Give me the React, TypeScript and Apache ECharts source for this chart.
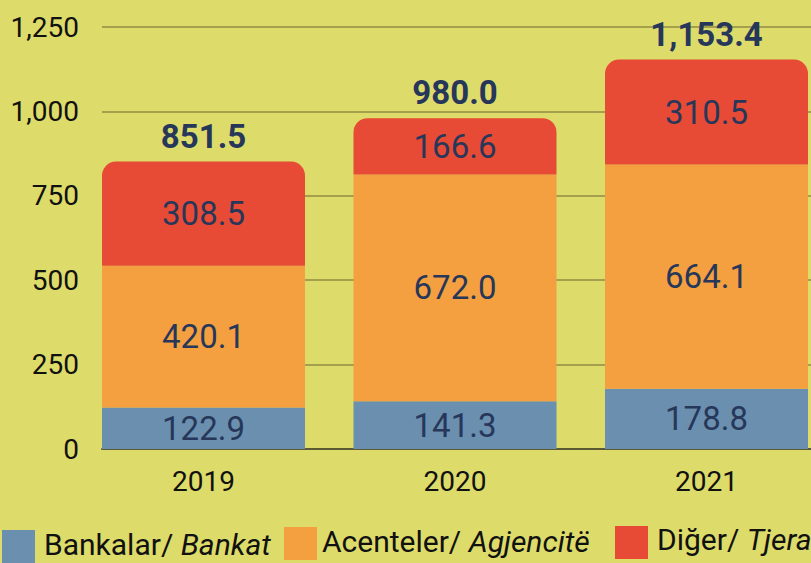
import React, { useEffect, useRef } from "react";
import * as echarts from "echarts";

const categories = ["2019", "2020", "2021"];
const bankat = [122.9, 141.3, 178.8];
const agjencite = [420.1, 672.0, 664.1];
const tjera = [308.5, 166.6, 310.5];
const totals = [851.5, 980.0, 1153.4];
const yTicks = [0, 250, 500, 750, 1000, 1250];

const BG = "#dddb6a";
const NAVY = "#26375a";
const FONT = "Roboto";

const fmt1 = (v: number) =>
  v.toLocaleString("en-US", { minimumFractionDigits: 1, maximumFractionDigits: 1 });

export default function App() {
  const ref = useRef<HTMLDivElement>(null);
  useEffect(() => {
    document.body.style.margin = "0";
    if (!ref.current) return;
    const chart = echarts.init(ref.current, null, { renderer: "svg" });
    const segLabel = {
      show: true,
      position: "inside",
      color: NAVY,
      fontSize: 33,
      fontFamily: FONT,
      formatter: (p: any) => fmt1(p.value),
    };
    const legendRich = {
      n: { fontSize: 30, fontFamily: FONT, fill: "#111" },
      i: { fontSize: 30, fontFamily: FONT, fontStyle: "italic", fill: "#111" },
    };
    chart.setOption({
      animation: false,
      backgroundColor: BG,
      grid: [
        { left: 203.5, right: 104.5, top: 27, bottom: 114 },
        { left: 102, right: 0, top: 27, bottom: 114 },
      ],
      xAxis: [
        {
          type: "category",
          data: categories,
          gridIndex: 0,
          boundaryGap: false,
          axisLine: { show: false },
          axisTick: { show: false },
          axisLabel: { color: "#111", fontSize: 28, fontFamily: FONT, margin: 18 },
          splitLine: { show: false },
        },
        {
          type: "category",
          data: categories,
          gridIndex: 1,
          axisLine: { show: true, lineStyle: { color: "#5b5a32", width: 2 } },
          axisTick: { show: false },
          axisLabel: { show: false },
          z: 0,
        },
      ],
      yAxis: [
        {
          type: "value",
          gridIndex: 0,
          min: 0,
          max: 1250,
          interval: 250,
          show: false,
          splitLine: { show: false },
        },
        {
          type: "value",
          gridIndex: 1,
          min: yTicks[0],
          max: yTicks[yTicks.length - 1],
          interval: 250,
          axisLine: { show: false },
          axisTick: { show: false },
          axisLabel: {
            color: "#111",
            fontSize: 28,
            fontFamily: FONT,
            margin: 23,
            formatter: (v: number) => v.toLocaleString("en-US"),
          },
          splitLine: { lineStyle: { color: "#a39f4c", width: 2 } },
        },
      ],
      series: [
        {
          name: "Bankalar/ Bankat",
          type: "bar",
          stack: "t",
          barWidth: 203,
          data: bankat,
          itemStyle: { color: "#6b8fae" },
          label: segLabel,
          z: 3,
        },
        {
          name: "Acenteler/ Agjencitë",
          type: "bar",
          stack: "t",
          barWidth: 203,
          data: agjencite,
          itemStyle: { color: "#f5a040" },
          label: segLabel,
          z: 3,
        },
        {
          name: "Diğer/ Tjera",
          type: "bar",
          stack: "t",
          barWidth: 203,
          data: tjera,
          itemStyle: { color: "#e84b35", borderRadius: [14, 14, 0, 0] },
          label: segLabel,
          z: 3,
        },
        {
          name: "total",
          type: "bar",
          stack: "t",
          barWidth: 203,
          data: totals.map(() => 0),
          itemStyle: { color: "transparent" },
          label: {
            show: true,
            position: "top",
            distance: 9,
            color: NAVY,
            fontSize: 33,
            fontWeight: "bold",
            fontFamily: FONT,
            formatter: (p: any) => fmt1(totals[p.dataIndex]),
          },
          z: 4,
        },
      ],
      graphic: [
        { type: "rect", shape: { x: 2, y: 530, width: 33, height: 33 }, style: { fill: "#6b8fae" } },
        { type: "rect", shape: { x: 284, y: 527, width: 33, height: 33 }, style: { fill: "#f5a040" } },
        { type: "rect", shape: { x: 615, y: 526, width: 33, height: 33 }, style: { fill: "#e84b35" } },
        {
          type: "text",
          x: 44,
          y: 544,
          style: { text: "{n|Bankalar/ }{i|Bankat}", verticalAlign: "middle", rich: legendRich },
        },
        {
          type: "text",
          x: 322,
          y: 541,
          style: { text: "{n|Acenteler/ }{i|Agjencitë}", verticalAlign: "middle", rich: legendRich },
        },
        {
          type: "text",
          x: 657,
          y: 539,
          style: { text: "{n|Diğer/ }{i|Tjera}", verticalAlign: "middle", rich: legendRich },
        },
      ],
    });
    return () => chart.dispose();
  }, []);
  return <div ref={ref} style={{ width: 811, height: 563 }} />;
}
